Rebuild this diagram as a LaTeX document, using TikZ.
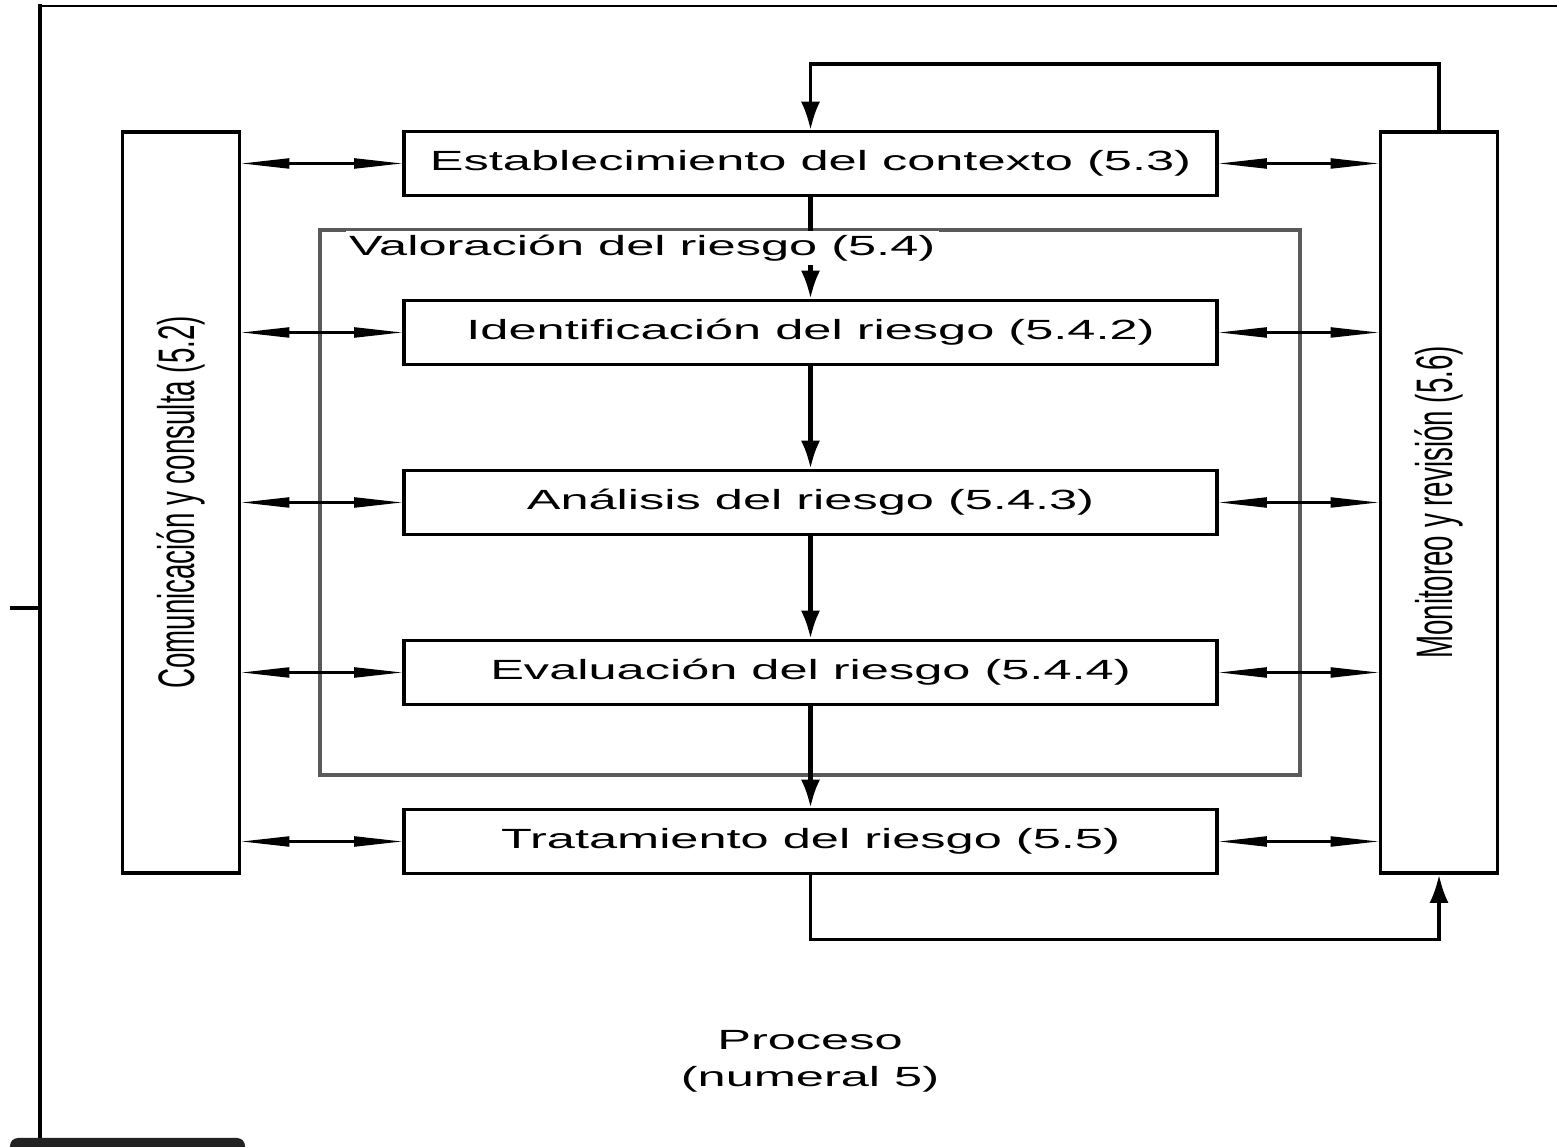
\documentclass[tikz,border=0pt]{standalone}
\usepackage{fontspec}
\setmainfont{Liberation Sans}
\newfontfamily\wideface{Liberation Sans}[FakeStretch=1.82]
\newfontfamily\tallface{Liberation Sans}[FakeStretch=0.54]
\usetikzlibrary{arrows.meta}
\definecolor{framegray}{RGB}{90,90,90}
\definecolor{bargray}{RGB}{34,34,34}

\begin{document}
\begin{tikzpicture}[
    stepbox/.style={draw, line width=1pt, minimum width=8.13cm, minimum height=0.64cm, inner sep=0pt, font=\wideface\fontsize{7.9}{9}\selectfont},
    sidebox/.style={draw, line width=1.1pt, minimum width=1.17cm, minimum height=7.41cm, inner sep=0pt, font=\tallface\fontsize{14.6}{16}\selectfont},
    labeltext/.style={font=\wideface\fontsize{7.9}{10.5}\selectfont},
    flow/.style={-{Latex[length=2.8mm,width=1.9mm]}, line width=1.2pt},
    backline/.style={-{Latex[length=2.8mm,width=1.9mm]}, line width=0.9pt},
    twoway/.style={{Triangle[length=4.8mm,width=1mm]}-{Triangle[length=4.8mm,width=1mm]}, line width=0.6pt}
]
    \useasboundingbox (0,0) rectangle (15.57,11.47);

    % Outer frame
    \draw[line width=1.3pt] (0.40,0.09) -- (0.40,11.43);
    \draw[line width=0.8pt] (0.38,11.41) -- (15.57,11.41);
    \draw[line width=1pt] (0.10,5.39) -- (0.40,5.39);
    \fill[bargray, rounded corners=0.08cm] (0.10,-0.2) rectangle (2.45,0.09);

    % Risk assessment frame
    \node[draw=framegray, line width=0.9pt, minimum width=9.8cm, minimum height=5.45cm] (val) at (8.10,6.445) {};

    % Process steps
    \node[stepbox] (est) at (8.105,9.835) {Establecimiento del contexto (5.3)};
    \node[stepbox] (ide) at (8.105,8.145) {Identificación del riesgo (5.4.2)};
    \node[stepbox] (ana) at (8.105,6.445) {Análisis del riesgo (5.4.3)};
    \node[stepbox] (eva) at (8.105,4.745) {Evaluación del riesgo (5.4.4)};
    \node[stepbox] (tra) at (8.105,3.055) {Tratamiento del riesgo (5.5)};

    % Side columns
    \node[sidebox] (com) at (1.81,6.445) {\rotatebox{90}{Comunicación y consulta (5.2)}};
    \node[sidebox] (mon) at (14.39,6.445) {\rotatebox{90}{Monitoreo y revisión (5.6)}};

    % Main flow
    \draw[flow] (est) -- (ide);
    \draw[flow] (ide) -- (ana);
    \draw[flow] (ana) -- (eva);
    \draw[flow] (eva) -- (tra);
    \node[labeltext, anchor=west, fill=white, inner sep=1pt] (valtxt) at (3.45,8.99) {Valoración del riesgo (5.4)};

    % Feedback loops
    \draw[backline] (mon.north) -- ++(0,0.66) -| (est.north);
    \draw[backline] (tra.south) -- ++(0,-0.645) -| (mon.south);

    % Links to the side columns
    \foreach \n in {est,ide,ana,eva,tra}{
        \draw[twoway] (com.east |- \n.west) -- (\n.west);
        \draw[twoway] (\n.east) -- (mon.west |- \n.east);
    }

    \node[labeltext, align=center] (proc) at (8.10,0.855) {Proceso\\(numeral 5)};
\end{tikzpicture}
\end{document}
